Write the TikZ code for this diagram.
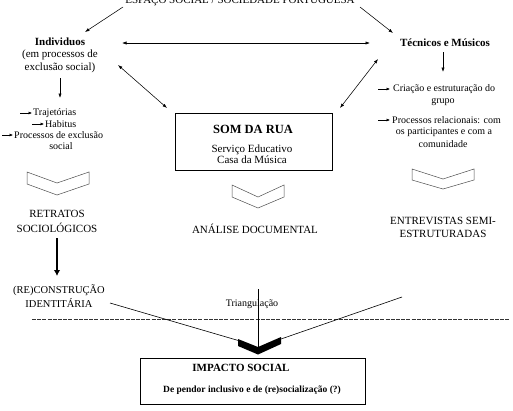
\documentclass[tikz,border=0pt]{standalone}
\usepackage{fontspec}
\setmainfont{Liberation Serif}
\usetikzlibrary{arrows.meta}
\tikzset{
  txt/.style={inner sep=0pt, font=\fontsize{10}{12}\selectfont},
  lbl/.style={inner sep=0pt, align=center, font=\fontsize{11}{14.5}\selectfont},
  head/.style={inner sep=0pt, align=center, font=\fontsize{11}{12.5}\selectfont},
  conn/.style={line width=0.55pt, {Latex[length=4.5pt,width=3.2pt]}-{Latex[length=4.5pt,width=3.2pt]}},
  oneway/.style={line width=0.55pt, -{Latex[length=4.5pt,width=3.2pt]}},
  bullet/.style={line width=0.5pt, -{Latex[length=3.5pt,width=3pt]}},
  chev/.style={line width=0.5pt, draw=black!70},
  boxed/.style={draw, line width=0.8pt, inner sep=0pt},
}
\begin{document}
\begin{tikzpicture}[x=1pt,y=-1pt]
\useasboundingbox (0,0) rectangle (513,410);

% top label (cut off by the page edge, as in the reference)
\node[inner sep=0pt, anchor=base, font=\fontsize{11}{13}\selectfont] (espaco) at (240,3.5) {ESPAÇO SOCIAL / SOCIEDADE PORTUGUESA};

% actors
\node[head] (indiv) at (60,55) {\textbf{Individuos}\\(em processos de\\exclusão social)};
\node[head] (tec) at (445,43) {\textbf{Técnicos e Músicos}};

% connector end points
\coordinate (e1) at (123,7);   \coordinate (e2) at (85,32);
\coordinate (e3) at (360,7);   \coordinate (e4) at (393,33);
\coordinate (h1) at (122,43);  \coordinate (h2) at (370,43);
\coordinate (d1) at (118,65);  \coordinate (d2) at (167,108);
\coordinate (d3) at (378,59);  \coordinate (d4) at (340,108);
\coordinate (v1) at (60,78);   \coordinate (v2) at (60,98);
\coordinate (w1) at (443,52);  \coordinate (w2) at (443,72);

\draw[oneway] (e1) -- (e2);
\draw[oneway] (e3) -- (e4);
\draw[conn] (h1) -- (h2);
\draw[conn] (d1) -- (d2);
\draw[conn] (d3) -- (d4);
\draw[oneway] (v1) -- (v2);
\draw[oneway] (w1) -- (w2);

% left list
\node[txt, anchor=west] (l1) at (33,113) {Trajetórias};
\node[txt, anchor=west] (l2) at (45,124) {Habitus};
\node[txt, anchor=west] (l3) at (14,135) {Processos de exclusão};
\node[txt] (l4) at (61,146.5) {social};
\draw[bullet] ([xshift=-13pt]l1.west) -- ([xshift=-1pt]l1.west);
\draw[bullet] ([xshift=-13pt]l2.west) -- ([xshift=-1pt]l2.west);
\draw[bullet] ([xshift=-12pt]l3.west) -- ([xshift=-1pt]l3.west);

% right list
\node[txt, anchor=west] (r1) at (393,89) {Criação e estruturação do};
\node[txt] (r2) at (443,102) {grupo};
\node[txt, anchor=west] (r3) at (392,120) {Processos relacionais: com};
\node[txt] (r4) at (444,132) {os participantes e com a};
\node[txt] (r5) at (443,144) {comunidade};
\draw[bullet] ([xshift=-15pt]r1.west) -- ([xshift=-3pt]r1.west);
\draw[bullet] ([xshift=-14pt]r3.west) -- ([xshift=-2pt]r3.west);

% SOM DA RUA
\node[boxed, minimum width=157pt, minimum height=57pt] (som) at (253.5,141.5) {};
\node[inner sep=0pt, font=\fontsize{12.5}{14}\selectfont\bfseries] (somt) at (253,129) {SOM DA RUA};
\node[inner sep=0pt, align=center, font=\fontsize{11}{11.5}\selectfont] (soms) at (252,154) {Serviço Educativo\\Casa da Música};

% chevrons
\draw[chev] (27,172) -- (57,183) -- (89,172) -- (89,184) -- (57,195) -- (27,184) -- cycle;
\draw[chev] (232,185) -- (258,197) -- (284,185) -- (284,197) -- (258,208) -- (232,197) -- cycle;
\draw[chev] (412,169) -- (443,179) -- (474,169) -- (474,180) -- (443,189) -- (412,180) -- cycle;

% methods
\node[lbl] (retr) at (57,221.5) {RETRATOS\\SOCIOLÓGICOS};
\node[lbl] (anal) at (255,229) {ANÁLISE DOCUMENTAL};
\node[lbl, font=\fontsize{11}{13.5}\selectfont] (entr) at (443,227.5) {ENTREVISTAS SEMI-\\ESTRUTURADAS};

\node[lbl, font=\fontsize{10.5}{14}\selectfont] (recon) at (59,296) {(RE)CONSTRUÇÃO\\IDENTITÁRIA};
\draw[line width=2.6pt, -{Latex[length=6pt,width=6.5pt]}] (retr.south |- 0,238) -- (57,276);

% triangulation
\node[txt] (tri) at (252,304) {Triangulação};
\coordinate (t1) at (258,289); \coordinate (t2) at (258,352);
\coordinate (s1) at (110,303); \coordinate (s2) at (240,341);
\coordinate (s3) at (402,297); \coordinate (s4) at (281,339);
\draw[line width=0.5pt, draw=black!80, dash pattern=on 4pt off 1.2pt] (32,319) -- (510,319);
\draw[line width=0.6pt] (s1) -- (s2);
\draw[line width=0.6pt] (s3) -- (s4);
\fill (238,339) -- (258,347) -- (281,337) -- (281,344) -- (258,354.5) -- (238,346) -- cycle;
\draw[line width=0.8pt] (t1) -- (t2);

% impact
\node[boxed, minimum width=225pt, minimum height=46pt] (imp) at (252.5,381) {};
\node[inner sep=0pt, font=\fontsize{11}{13}\selectfont\bfseries] (impt) at (241,368) {IMPACTO SOCIAL};
\node[inner sep=0pt, font=\fontsize{9.5}{11}\selectfont\bfseries] (imps) at (252,390) {De pendor inclusivo e de (re)socialização (?)};
\end{tikzpicture}
\end{document}
